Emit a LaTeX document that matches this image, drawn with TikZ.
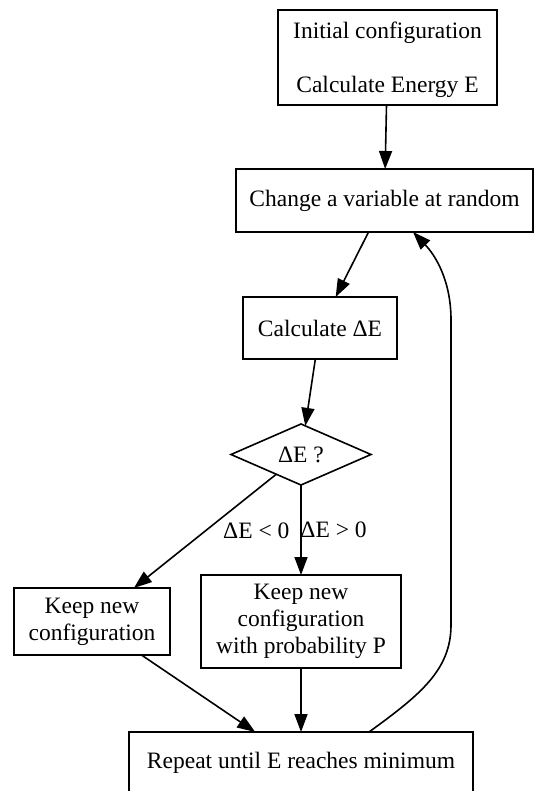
\documentclass[tikz,border=0pt]{standalone}
\usepackage{fontspec}
\setmainfont{Liberation Serif}
\usepackage{tikz}
\usetikzlibrary{positioning,arrows.meta,shapes.geometric}

\begin{document}
\begin{tikzpicture}[
    x=0.5pt, y=-0.5pt,
    font=\fontsize{11.75}{13.5}\selectfont,
    line width=0.8pt,
    box/.style={draw, align=center, inner sep=2pt, outer sep=0pt},
    dec/.style={draw, diamond, aspect=2.3, inner sep=1pt, outer sep=0pt},
    arr/.style={-{Triangle[length=9pt, width=6.5pt]}}
]
\useasboundingbox (0,0) rectangle (534,791);
\node[box, minimum width=109.5pt, minimum height=47.5pt] (init) at (387.5,57.5)
     {\rule{0pt}{11pt}Initial configuration\\[13.5pt]Calculate Energy E};
\node[box, minimum width=148.5pt, minimum height=31.5pt, below=32pt of init, xshift=-1.5pt] (change)
     {Change a variable at random};
\node[box, minimum width=77pt, minimum height=31pt, below=32.5pt of change, xshift=-32.25pt] (calc)
     {Calculate ΔE};
\node[dec, minimum width=70pt, minimum height=30.5pt, below=32.5pt of calc, xshift=-9.5pt] (test)
     {ΔE ?};
\node[box, minimum width=100pt, minimum height=46.5pt, below=45pt of test] (maybe)
     {Keep new\\configuration\\with probability P};
\node[box, minimum width=78pt, minimum height=33.5pt, left=15.5pt of maybe] (keep)
     {Keep new\\configuration};
\node[box, minimum width=172pt, minimum height=31pt, below=32pt of maybe] (repeat)
     {Repeat until E reaches minimum};
\draw[arr] (init) -- (change);
\draw[arr] (change) -- (calc);
\draw[arr] (calc) -- (test);
\draw[arr] (test) -- (keep) node[pos=0.5, anchor=west, xshift=5.3pt] {ΔE < 0};
\draw[arr] (test) -- (maybe) node[pos=0.5, anchor=west, xshift=-4pt] {ΔE > 0};
\draw[arr] (keep) -- (repeat);
\draw[arr] (maybe) -- (repeat);
\draw[arr] ([xshift=34pt]repeat.north) .. controls (420,695) and (451,670) .. (451,625)
     -- (451,320) .. controls (451,280) and (435,255) .. ([xshift=14.25pt]change.south);
\end{tikzpicture}
\end{document}
